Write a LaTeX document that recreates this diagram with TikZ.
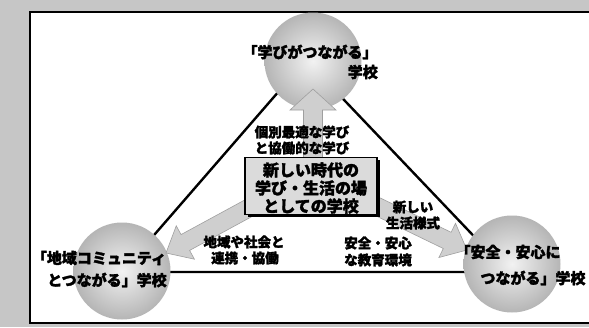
\documentclass[tikz,border=0pt]{standalone}
\usepackage{fontspec}
\newfontfamily\jp{Noto Sans CJK JP}[BoldFeatures={FakeBold=2}]
\usetikzlibrary{calc,shadows}
\tikzset{
  triline/.style={line width=2.4pt, line join=miter},
  ball/.style={circle, minimum size=97pt, inner sep=0pt, shading=radial, inner color=gray!10, outer color=gray!58},
  blockarr/.style={fill=gray!38, draw=gray!75, line width=0.6pt},
  circtxt/.style={font=\jp\bfseries\fontsize{15pt}{17pt}\selectfont, inner sep=0pt},
  boxtxt/.style={font=\jp\bfseries\fontsize{16pt}{18pt}\selectfont, inner sep=0pt, align=center},
  lbltxt/.style={font=\jp\bfseries\fontsize{13.5pt}{15pt}\selectfont, inner sep=0pt},
}
\newcommand\blockarrow[5]{%
  \coordinate (#1#2h) at ($(#2)!#5!(#1)$);
  \path[blockarr] ($(#1)!#3!90:(#2)$) -- ($(#1#2h)!#3!-90:(#1)$) -- ($(#1#2h)!#4!-90:(#1)$)
    -- (#2) -- ($(#1#2h)!#4!90:(#1)$) -- ($(#1#2h)!#3!90:(#1)$) -- ($(#1)!#3!-90:(#2)$) -- cycle;
}
\begin{document}
\begin{tikzpicture}[x=1pt,y=-1pt]
\useasboundingbox (0,0) rectangle (589,327);
\clip (0,0) rectangle (589,327);
% background frame
\fill[gray!45] (0,0) rectangle (589,327);
\draw[fill=white, line width=2pt] (30,12) rectangle (600,323);
% triangle
\coordinate (apex) at (306,60);
\coordinate (lc) at (122,272);
\coordinate (rc) at (508,272);
\draw[triline] (apex) -- (lc) -- (rc) -- cycle;
% circles
\node[ball] (topball) at (313,61) {};
\node[ball] (leftball) at (122,271) {};
\node[ball] (rightball) at (512,264) {};
% block arrows
\coordinate (ua) at (313,158);
\coordinate (ub) at (313,89);
\coordinate (la) at (258,203);
\coordinate (lb) at (166,253);
\coordinate (ra) at (370,203);
\coordinate (rb) at (467,250);
\blockarrow{ua}{ub}{9.5pt}{23pt}{21pt}
\blockarrow{la}{lb}{9pt}{19pt}{22pt}
\blockarrow{ra}{rb}{9pt}{19pt}{22pt}
% centre box
\node[draw, line width=1.2pt, fill=gray!28, minimum width=132pt, minimum height=57pt,
  drop shadow={shadow xshift=2.5pt, shadow yshift=-2.5pt, fill=black, opacity=1}] (centre) at (311,186) {};
\node[boxtxt] (c1) at (311,170) {新しい時代の};
\node[boxtxt] (c2) at (311,188) {学び・生活の場};
\node[boxtxt] (c3) at (311,206) {としての学校};
% circle texts
\node[circtxt] (t1) at (310,52) {「学びがつながる」};
\node[circtxt, anchor=east] (t2) at (378,72) {学校};
\node[circtxt] (l1) at (99,258) {「地域コミュニティ};
\node[circtxt] (l2) at (107,280) {とつながる」学校};
\node[circtxt] (r1) at (508,252) {「安全・安心に};
\node[circtxt] (r2) at (533,278) {つながる」学校};
% labels
\node[lbltxt] (a1) at (302,132) {個別最適な学び};
\node[lbltxt] (a2) at (302,148) {と協働的な学び};
\node[lbltxt] (b1) at (244,242) {地域や社会と};
\node[lbltxt] (b2) at (245,258) {連携・協働};
\node[lbltxt] (d1) at (378,243) {安全・安心};
\node[lbltxt] (d2) at (378,260) {な教育環境};
\node[lbltxt] (e1) at (413,207) {新しい};
\node[lbltxt] (e2) at (413,223) {生活様式};
\end{tikzpicture}
\end{document}
